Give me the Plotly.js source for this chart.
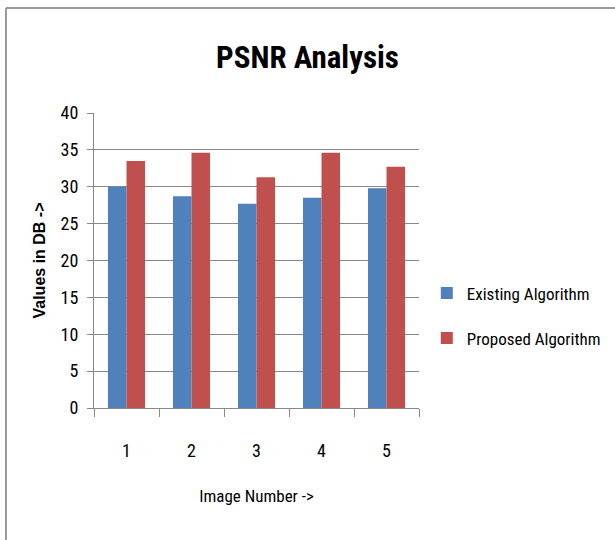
<!DOCTYPE html>
<html>
<head>
<meta charset="utf-8">
<script src="https://cdn.plot.ly/plotly-3.0.1.min.js"></script>
<style>html,body{margin:0;padding:0;background:#fff;}#chart{width:615px;height:540px;}</style>
</head>
<body>
<div id="chart"></div>
<script>
var categories = ["1", "2", "3", "4", "5"];
var existingValues = [30.0, 28.7, 27.7, 28.5, 29.8];
var proposedValues = [33.5, 34.6, 31.3, 34.6, 32.7];
var seriesNames = ["Existing Algorithm", "Proposed Algorithm"];
var yTicks = [0, 5, 10, 15, 20, 25, 30, 35, 40];

var narrow = "Liberation Sans Narrow, Arial Narrow, Roboto Condensed, Roboto, sans-serif";

var traces = [
  {type: "bar", x: categories, y: existingValues, name: seriesNames[0],
   marker: {color: "#4F81BD"}, legendgroup: "a"},
  {type: "bar", x: categories, y: proposedValues, name: seriesNames[1],
   marker: {color: "#C0504D"}, legendgroup: "b"}
];

var layout = {
  width: 615, height: 540,
  margin: {l: 94, r: 196, t: 113, b: 132},
  paper_bgcolor: "#fff", plot_bgcolor: "#fff",
  barmode: "group", bargap: 0.43, bargroupgap: 0,
  title: {text: "<b>PSNR Analysis</b>", x: 0.5, xanchor: "center", y: 0.895, yanchor: "middle",
          font: {family: narrow, size: 31, color: "#000"}},
  xaxis: {type: "category", showline: true, linecolor: "#888", linewidth: 1,
          ticks: "outside", tickson: "boundaries", ticklen: 8, tickcolor: "#888",
          ticklabelstandoff: 26,
          tickfont: {family: narrow, size: 18, color: "#000"},
          title: {text: "Image Number ->", standoff: 30, font: {family: narrow, size: 17, color: "#000"}},
          showgrid: false, zeroline: false},
  yaxis: {range: [0, 40], tickvals: yTicks, ticktext: yTicks.map(String),
          showline: true, linecolor: "#888", linewidth: 1,
          ticks: "outside", ticklen: 6, tickcolor: "#888",
          ticklabelstandoff: 5,
          showgrid: true, gridcolor: "#888", gridwidth: 1, zeroline: false,
          tickfont: {family: narrow, size: 18, color: "#000"},
          title: {text: "<b>Values in DB -></b>", standoff: 11, font: {family: "Liberation Sans, Arial, sans-serif", size: 16, color: "#000"}}},
  legend: {xref: "container", yref: "container", x: 0.694, xanchor: "left", y: 0.49, yanchor: "top",
           font: {family: narrow, size: 17, color: "#000"},
           tracegroupgap: 20, traceorder: "grouped", itemwidth: 30},
  showlegend: true,
  shapes: [
    {type: "line", xref: "paper", yref: "paper", x0: -0.2708, x1: 2, y0: 1.3559, y1: 1.3559,
     line: {color: "#999", width: 2}},
    {type: "line", xref: "paper", yref: "paper", x0: -0.2708, x1: -0.2708, y0: 1.3559, y1: -0.5,
     line: {color: "#999", width: 2}}
  ]
};

Plotly.newPlot("chart", traces, layout, {displayModeBar: false, staticPlot: true});
</script>
</body>
</html>
